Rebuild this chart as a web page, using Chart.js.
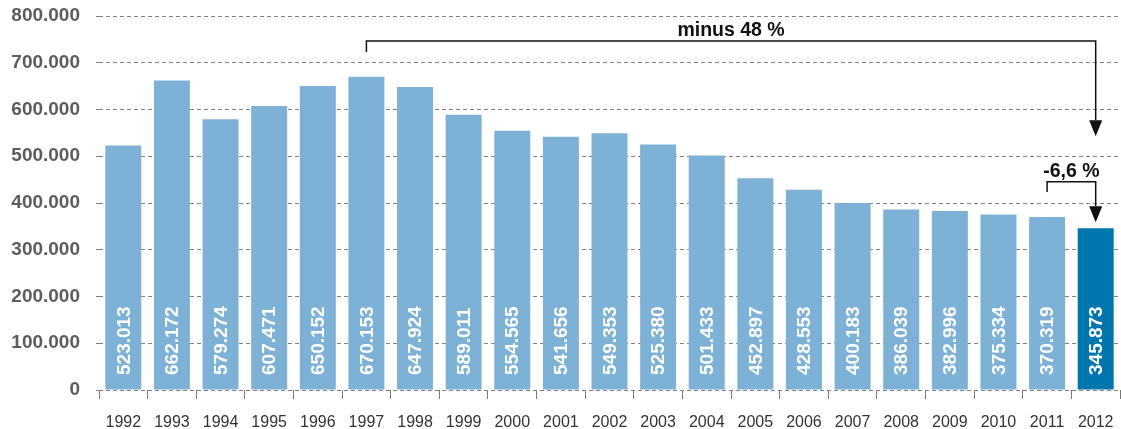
<!DOCTYPE html>
<html>
<head>
<meta charset="utf-8">
<script src="https://cdn.jsdelivr.net/npm/chart.js@4.4.1/dist/chart.umd.min.js"></script>
<style>
  body { margin: 0; background: #ffffff; }
  #wrap { width: 1121px; height: 429px; }
</style>
</head>
<body>
<div id="wrap"><canvas id="chart"></canvas></div>
<script>
// DATA (the numbers are printed inside the bars)
const years = ["1992", "1993", "1994", "1995", "1996", "1997", "1998", "1999", "2000", "2001", "2002",
               "2003", "2004", "2005", "2006", "2007", "2008", "2009", "2010", "2011", "2012"];
const values = [523013, 662172, 579274, 607471, 650152, 670153, 647924, 589011, 554565, 541656, 549353,
                525380, 501433, 452897, 428553, 400183, 386039, 382996, 375334, 370319, 345873];
const yTicks = [0, 100000, 200000, 300000, 400000, 500000, 600000, 700000, 800000];

// the two brackets with arrows: which year they start from, which year they point to, and the text
const bigDrop = { from: "1997", to: "2012", label: "minus 48 %" };
const smallDrop = { from: "2011", to: "2012", label: "-6,6 %" };

// colours
const barBlue = "#7db1d5";
const lastBlue = "#0076ae";
const fontName = "'Liberation Sans', Arial, Helvetica, sans-serif";

// german style thousands: 100000 -> 100.000
function dotted(n) {
    return String(n).replace(/\B(?=(\d{3})+(?!\d))/g, ".");
}

// last bar is darker, all the others light blue
let barColours = years.map(function (y, i) { return i == years.length - 1 ? lastBlue : barBlue; });

// draws the white numbers inside the bars + the bracket arrows on top
const extrasPlugin = {
    id: "extras",
    afterDatasetsDraw(chart) {
        const ctx = chart.ctx;
        const xs = chart.scales.x;
        const ys = chart.scales.y;
        const bars = chart.getDatasetMeta(0).data;

        // value labels, rotated, reading bottom to top
        ctx.save();
        ctx.fillStyle = "#ffffff";
        ctx.font = "bold 19px " + fontName;
        ctx.textAlign = "left";
        ctx.textBaseline = "middle";
        bars.forEach(function (bar, i) {
            ctx.save();
            ctx.translate(bar.x + 1, ys.bottom - 15);
            ctx.rotate(-Math.PI / 2);
            ctx.fillText(dotted(values[i]), 0, 0);
            ctx.restore();
        });
        ctx.restore();

        // bracket: little tick down on the left, line across, arrow down on the right
        function bracket(b, lineVal, tickVal, tipVal) {
            let x1 = xs.getPixelForValue(years.indexOf(b.from));
            let x2 = xs.getPixelForValue(years.indexOf(b.to));
            let yLine = ys.getPixelForValue(lineVal);
            let yTick = ys.getPixelForValue(tickVal);
            let yTip = ys.getPixelForValue(tipVal);
            let head = 16;

            ctx.save();
            ctx.strokeStyle = "#111111";
            ctx.fillStyle = "#111111";
            ctx.lineWidth = 1.5;
            ctx.beginPath();
            ctx.moveTo(x1, yTick);
            ctx.lineTo(x1, yLine);
            ctx.lineTo(x2, yLine);
            ctx.lineTo(x2, yTip - head);
            ctx.stroke();
            ctx.beginPath();
            ctx.moveTo(x2 - 6.5, yTip - head);
            ctx.lineTo(x2 + 6.5, yTip - head);
            ctx.lineTo(x2, yTip);
            ctx.closePath();
            ctx.fill();

            ctx.font = "bold 19.5px " + fontName;
            ctx.textAlign = "center";
            ctx.textBaseline = "middle";
            ctx.fillText(b.label, (x1 + x2) / 2, yLine - 10);
            ctx.restore();
        }
        bracket(bigDrop, 746500, 723000, 543000);
        bracket(smallDrop, 445600, 423500, 359000);
    }
};

let chart = new Chart("chart", {
    type: "bar",
    data: {
        labels: years,
        datasets: [{
            data: values,
            backgroundColor: barColours,
            borderWidth: 0,
            categoryPercentage: 1,
            barPercentage: 0.74
        }]
    },
    plugins: [extrasPlugin],
    options: {
        responsive: true,
        maintainAspectRatio: false,
        animation: false,
        layout: { padding: { top: 16, right: 1, left: 0, bottom: 0 } },
        plugins: {
            legend: { display: false },
            tooltip: { enabled: false }
        },
        scales: {
            x: {
                offset: true,
                // same trick as on y: the last year label was eating room on the right
                afterFit: function (s) {
                    s.height = 39;
                    s.paddingLeft = 0;
                    s.paddingRight = 0;
                },
                border: { display: false },
                grid: {
                    offset: true,
                    drawOnChartArea: false,
                    drawTicks: true,
                    tickLength: 9,
                    color: "#777777",
                    lineWidth: 1
                },
                ticks: {
                    autoSkip: false,
                    maxRotation: 0,
                    padding: 14,
                    color: "#333333",
                    font: { family: fontName, size: 16 }
                }
            },
            y: {
                min: 0,
                max: 800000,
                // fixed width, and no extra room above/below for the tick labels (the padding was pushing the top down)
                afterFit: function (s) {
                    s.width = 99;
                    s.paddingTop = 0;
                    s.paddingBottom = 0;
                },
                afterBuildTicks: function (s) { s.ticks = yTicks.map(function (v) { return { value: v }; }); },
                grid: {
                    drawTicks: true,
                    tickLength: 3,
                    color: "#808080",
                    lineWidth: 1
                },
                // in v4 the dash of the grid lines sits under border
                border: { display: false, dash: [4, 3] },
                ticks: {
                    padding: 16,
                    color: "#5c5c5c",
                    font: { family: fontName, size: 19, weight: "bold" },
                    callback: function (v) { return dotted(v); }
                }
            }
        }
    }
});
</script>
</body>
</html>
